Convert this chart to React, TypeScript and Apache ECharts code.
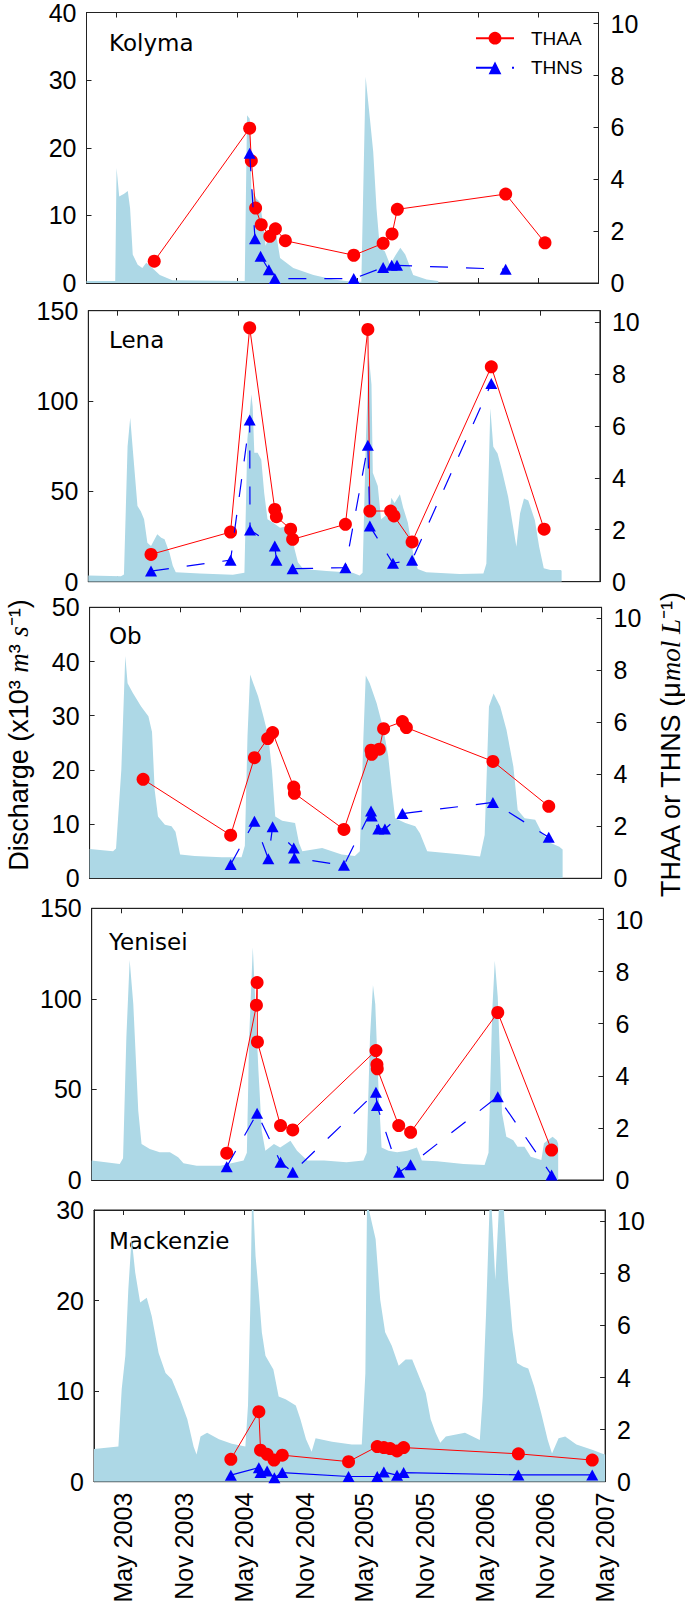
import React, { useEffect, useRef } from "react";
import * as echarts from "echarts";

type Pt = [string, number];

// ---------- categories / ticks ----------
const rivers = ["Kolyma", "Lena", "Ob", "Yenisei", "Mackenzie"];
const dischargeMax = [40, 150, 50, 150, 30];
const dischargeStep = [10, 50, 10, 50, 10];
const concMax = 10.43;
const concTicks = [0, 2, 4, 6, 8, 10];
const xStart = "2003-02-01";
const xEnd = "2007-05-01";
const xTickDates = [
  "2003-05-01", "2003-11-01", "2004-05-01", "2004-11-01", "2005-05-01",
  "2005-11-01", "2006-05-01", "2006-11-01", "2007-05-01",
];
const seriesNames = ["THAA", "THNS"];

// ---------- discharge (x10^3 m3 s-1) ----------
const kolymaQ: Pt[] = [
  ["2003-02-01", 0.3], ["2003-04-29", 0.3], ["2003-05-03", 17.0], ["2003-05-11", 12.8], ["2003-05-26", 13.2],
  ["2003-06-06", 13.6], ["2003-06-13", 11.0], ["2003-06-21", 4.2], ["2003-07-06", 2.7], ["2003-07-20", 2.2],
  ["2003-08-01", 3.0], ["2003-08-11", 2.6], ["2003-09-11", 1.2], ["2003-10-19", 0.4], ["2004-05-25", 0.3],
  ["2004-06-01", 24.8], ["2004-06-09", 24.3], ["2004-06-14", 14.0], ["2004-06-29", 12.5], ["2004-07-09", 12.0],
  ["2004-07-19", 9.1], ["2004-07-27", 5.5], ["2004-08-09", 7.1], ["2004-08-29", 7.0], ["2004-09-09", 3.7],
  ["2004-10-19", 2.2], ["2004-12-19", 1.2], ["2005-02-17", 0.5], ["2005-04-16", 0.2], ["2005-05-13", 0.2],
  ["2005-05-26", 30.5], ["2005-06-08", 24.3], ["2005-06-18", 19.4], ["2005-06-28", 11.0], ["2005-07-08", 5.2],
  ["2005-07-23", 4.7], ["2005-08-08", 2.7], ["2005-08-23", 4.0], ["2005-09-08", 5.2], ["2005-09-23", 4.2],
  ["2005-10-17", 1.2], ["2005-11-27", 0.5], ["2006-01-01", 0.3],
];
const lenaQ: Pt[] = [
  ["2003-02-01", 3.5], ["2003-05-11", 3.0], ["2003-05-20", 4.0], ["2003-05-31", 75], ["2003-06-08", 90.8],
  ["2003-06-15", 75], ["2003-06-30", 41.9], ["2003-07-10", 39], ["2003-07-20", 34.5], ["2003-07-30", 21.6],
  ["2003-08-10", 19.8], ["2003-08-29", 26.2], ["2003-09-10", 24.3], ["2003-09-20", 23.5], ["2003-10-05", 16],
  ["2003-10-15", 8.8], ["2003-10-24", 5.2], ["2004-01-05", 4.5], ["2004-04-14", 3.8], ["2004-05-19", 5],
  ["2004-05-28", 78.8], ["2004-06-09", 103.7], ["2004-06-13", 97], ["2004-06-18", 71.4], ["2004-06-28", 71.4],
  ["2004-07-09", 67.7], ["2004-07-18", 49], ["2004-07-28", 34.5], ["2004-08-13", 32.7], ["2004-09-04", 29.9],
  ["2004-10-04", 30.9], ["2004-10-18", 17.9], ["2004-10-28", 10.7], ["2004-11-13", 7], ["2005-01-23", 5.9],
  ["2005-04-12", 5], ["2005-05-03", 3.4], ["2005-05-12", 5], ["2005-05-22", 78.8], ["2005-05-31", 124.9],
  ["2005-06-08", 109], ["2005-06-12", 60.3], ["2005-06-27", 53], ["2005-07-07", 34.5], ["2005-08-02", 38.4],
  ["2005-08-07", 46.5], ["2005-08-17", 43.6], ["2005-09-02", 48.4], ["2005-09-12", 41], ["2005-09-26", 32.7],
  ["2005-10-12", 16], ["2005-10-26", 7], ["2005-11-21", 5.2], ["2006-03-02", 4.3], ["2006-05-13", 4.6],
  ["2006-05-22", 10], ["2006-06-03", 96], ["2006-06-12", 74.7], ["2006-06-25", 71], ["2006-07-08", 61.8],
  ["2006-07-27", 47], ["2006-08-11", 30.4], ["2006-08-21", 19.4], ["2006-09-01", 37.8], ["2006-09-13", 46.1],
  ["2006-09-26", 45], ["2006-10-16", 34], ["2006-10-29", 19.4], ["2006-11-12", 7.4], ["2006-12-02", 6.5],
  ["2007-01-02", 6.5], ["2007-01-05", 6.0],
];
const obQ: Pt[] = [
  ["2003-02-01", 5.4], ["2003-04-13", 5.0], ["2003-04-22", 5.5], ["2003-05-08", 20], ["2003-05-20", 41],
  ["2003-05-27", 36], ["2003-06-12", 34.2], ["2003-07-07", 31.7], ["2003-07-29", 29.9], ["2003-08-09", 27],
  ["2003-08-17", 16.3], ["2003-08-27", 11.4], ["2003-09-17", 9.9], ["2003-10-07", 9.6], ["2003-10-19", 8.6],
  ["2003-11-02", 4.4], ["2003-12-16", 4.1], ["2004-03-07", 3.9], ["2004-05-06", 3.9], ["2004-05-16", 6],
  ["2004-05-24", 26.2], ["2004-06-01", 37.6], ["2004-06-11", 35.9], ["2004-06-25", 33.6], ["2004-07-11", 29.9],
  ["2004-07-26", 26.2], ["2004-08-06", 20], ["2004-08-16", 11.4], ["2004-09-06", 10.6], ["2004-10-15", 10.2],
  ["2004-10-27", 6.5], ["2004-11-06", 5], ["2005-01-05", 5.6], ["2005-03-05", 4.4], ["2005-04-14", 4.1],
  ["2005-04-29", 5], ["2005-05-10", 26.2], ["2005-05-17", 37.4], ["2005-05-29", 36], ["2005-06-19", 32.3],
  ["2005-07-10", 27.4], ["2005-07-24", 22.5], ["2005-08-04", 16.3], ["2005-08-14", 11.1], ["2005-09-14", 10.2],
  ["2005-10-14", 9.6], ["2005-10-28", 8.3], ["2005-11-19", 5], ["2006-03-04", 4.4], ["2006-04-28", 4],
  ["2006-05-12", 8], ["2006-05-25", 31.7], ["2006-06-08", 34.1], ["2006-06-28", 31.7], ["2006-07-17", 27.4],
  ["2006-08-07", 20.6], ["2006-08-20", 12.6], ["2006-09-10", 11.1], ["2006-10-12", 10.8], ["2006-11-02", 8.3],
  ["2006-11-28", 6.5], ["2006-12-24", 5.8], ["2007-01-03", 5.3],
];
const yeniseiQ: Pt[] = [
  ["2003-02-01", 10.7], ["2003-04-27", 8.8], ["2003-05-07", 12], ["2003-05-17", 78.8], ["2003-05-27", 121.5],
  ["2003-06-07", 97.2], ["2003-06-22", 38.3], ["2003-07-02", 19.9], ["2003-07-27", 17.1], ["2003-08-26", 15.3],
  ["2003-09-26", 15.3], ["2003-10-21", 12.5], ["2003-11-06", 9.2], ["2003-12-16", 7.9], ["2004-02-26", 7.9],
  ["2004-05-06", 10.7], ["2004-05-16", 15], ["2004-05-23", 78.8], ["2004-06-03", 128.5], ["2004-06-11", 97.2],
  ["2004-06-20", 60.4], ["2004-06-30", 27.2], ["2004-07-11", 16.2], ["2004-08-06", 19.9], ["2004-08-25", 18],
  ["2004-09-25", 21.7], ["2004-10-15", 16.2], ["2004-11-15", 10.7], ["2005-01-05", 10.7], ["2005-03-14", 9.8],
  ["2005-05-04", 10.7], ["2005-05-14", 15], ["2005-05-24", 78.8], ["2005-06-02", 107.7], ["2005-06-09", 97],
  ["2005-06-19", 49.3], ["2005-06-28", 18], ["2005-07-19", 16.2], ["2005-08-14", 15.3], ["2005-09-14", 16.2],
  ["2005-10-13", 18], ["2005-10-28", 10.7], ["2005-12-13", 10.3], ["2006-03-03", 8.8], ["2006-05-06", 8.3],
  ["2006-05-18", 15], ["2006-05-29", 92], ["2006-06-06", 121], ["2006-06-15", 101], ["2006-06-28", 36.8],
  ["2006-07-11", 23.9], ["2006-08-01", 22], ["2006-08-14", 18.4], ["2006-09-04", 18.4], ["2006-09-23", 12.9],
  ["2006-10-25", 11], ["2006-11-02", 20.3], ["2006-11-28", 23.9], ["2006-12-11", 22], ["2006-12-15", 20],
];
const mackenzieQ: Pt[] = [
  ["2003-02-01", 3.6], ["2003-04-16", 3.9], ["2003-04-26", 10.2], ["2003-05-07", 13.9], ["2003-05-16", 21.2],
  ["2003-05-26", 26.9], ["2003-06-06", 23.1], ["2003-06-21", 19.8], ["2003-07-11", 20.3], ["2003-07-26", 18.3],
  ["2003-08-16", 14.2], ["2003-09-06", 12], ["2003-09-25", 11.3], ["2003-10-20", 9.1], ["2003-11-11", 6.9],
  ["2003-11-30", 3.9], ["2003-12-09", 3.0], ["2003-12-21", 5.0], ["2004-01-10", 5.4], ["2004-02-15", 4.7],
  ["2004-03-25", 4.2], ["2004-05-05", 3.9], ["2004-05-13", 8.4], ["2004-05-20", 19.4], ["2004-05-26", 33],
  ["2004-06-05", 24.9], ["2004-06-14", 21.2], ["2004-06-24", 16.5], ["2004-07-05", 13.9], ["2004-07-29", 12.4],
  ["2004-08-14", 9.4], ["2004-09-04", 9.1], ["2004-10-05", 8.4], ["2004-10-19", 6.9], ["2004-11-05", 4.7],
  ["2004-11-22", 3.3], ["2004-12-04", 4.8], ["2005-01-23", 4.4], ["2005-03-24", 4.1], ["2005-04-23", 4.1],
  ["2005-05-04", 12], ["2005-05-09", 31], ["2005-05-18", 29.5], ["2005-06-04", 26.8], ["2005-06-18", 20.1],
  ["2005-07-03", 16.5], ["2005-07-23", 15], ["2005-08-13", 12.8], ["2005-09-03", 13.5], ["2005-09-23", 13.5],
  ["2005-10-13", 11.7], ["2005-11-03", 9.8], ["2005-11-18", 6.9], ["2005-12-03", 5.4], ["2005-12-17", 4.3],
  ["2006-01-03", 5], ["2006-03-02", 5.4], ["2006-03-13", 5.2], ["2006-04-16", 4.6], ["2006-04-25", 9.4],
  ["2006-05-05", 18.6], ["2006-05-18", 33], ["2006-06-02", 22.3], ["2006-06-14", 31], ["2006-06-27", 30.5],
  ["2006-07-11", 22.3], ["2006-07-24", 16.7], ["2006-08-07", 13.1], ["2006-08-26", 12.7], ["2006-09-10", 12.5],
  ["2006-09-28", 10.5], ["2006-10-19", 7.6], ["2006-11-08", 4.6], ["2006-11-21", 3.1], ["2006-12-11", 4.8],
  ["2006-12-31", 5], ["2007-02-03", 4.1], ["2007-03-25", 3.5], ["2007-04-21", 3.1], ["2007-05-01", 3.0],
];

// ---------- THAA (umol L-1) ----------
const kolymaTHAA: Pt[] = [
  ["2003-08-25", 0.84], ["2004-06-09", 5.97], ["2004-06-14", 4.71], ["2004-06-27", 2.89], ["2004-07-14", 2.25],
  ["2004-08-09", 1.80], ["2004-08-26", 2.09], ["2004-09-25", 1.63], ["2005-04-20", 1.07], ["2005-07-18", 1.53],
  ["2005-08-14", 1.89], ["2005-08-30", 2.84], ["2006-07-24", 3.43], ["2006-11-20", 1.55],
];
const lenaTHAA: Pt[] = [
  ["2003-08-10", 1.05], ["2004-04-07", 1.91], ["2004-06-04", 9.77], ["2004-08-19", 2.78], ["2004-08-24", 2.5],
  ["2004-10-06", 2.02], ["2004-10-12", 1.63], ["2005-03-21", 2.21], ["2005-05-28", 9.71], ["2005-06-03", 2.72],
  ["2005-08-05", 2.72], ["2005-08-15", 2.53], ["2005-10-09", 1.53], ["2006-06-06", 8.27], ["2006-11-13", 2.02],
];
const obTHAA: Pt[] = [
  ["2003-07-13", 3.81], ["2004-04-03", 1.66], ["2004-06-14", 4.64], ["2004-07-24", 5.38], ["2004-08-08", 5.61],
  ["2004-10-11", 3.51], ["2004-10-13", 3.27], ["2005-03-12", 1.88], ["2005-06-02", 4.93], ["2005-06-04", 4.77],
  ["2005-06-27", 4.97], ["2005-07-10", 5.76], ["2005-09-05", 6.03], ["2005-09-17", 5.8], ["2006-06-06", 4.5],
  ["2006-11-22", 2.77],
];
const yeniseiTHAA: Pt[] = [
  ["2004-03-16", 1.03], ["2004-06-14", 6.71], ["2004-06-16", 7.58], ["2004-06-17", 5.3], ["2004-08-26", 2.09],
  ["2004-10-02", 1.92], ["2005-06-11", 4.97], ["2005-06-14", 4.43], ["2005-06-15", 4.27], ["2005-08-19", 2.09],
  ["2005-09-24", 1.83], ["2006-06-15", 6.43], ["2006-11-25", 1.15],
];
const mackenzieTHAA: Pt[] = [
  ["2004-03-22", 0.86], ["2004-06-15", 2.69], ["2004-06-20", 1.21], ["2004-07-10", 1.05], ["2004-07-31", 0.83],
  ["2004-08-25", 1.02], ["2005-03-14", 0.77], ["2005-06-09", 1.35], ["2005-06-29", 1.31], ["2005-07-18", 1.27],
  ["2005-08-08", 1.18], ["2005-08-28", 1.31], ["2006-08-11", 1.07], ["2007-03-23", 0.83],
];

// ---------- THNS (umol L-1) ----------
const kolymaTHNS: Pt[] = [
  ["2004-06-09", 5.0], ["2004-06-25", 1.71], ["2004-07-12", 1.03], ["2004-08-06", 0.51], ["2004-08-24", 0.17],
  ["2005-04-20", 0.17], ["2005-07-18", 0.6], ["2005-08-13", 0.68], ["2005-08-29", 0.68], ["2006-07-24", 0.53],
];
const lenaTHNS: Pt[] = [
  ["2003-08-10", 0.41], ["2004-04-07", 0.83], ["2004-06-04", 6.22], ["2004-06-05", 1.99], ["2004-08-19", 1.37],
  ["2004-08-24", 0.83], ["2004-10-12", 0.5], ["2005-03-21", 0.54], ["2005-05-28", 5.25], ["2005-06-03", 2.14],
  ["2005-08-12", 0.71], ["2005-10-09", 0.83], ["2006-06-06", 7.63],
];
const obTHNS: Pt[] = [
  ["2004-04-03", 0.53], ["2004-06-14", 2.2], ["2004-07-26", 0.75], ["2004-08-08", 1.98], ["2004-10-11", 1.17],
  ["2004-10-13", 0.78], ["2005-03-12", 0.5], ["2005-06-02", 2.59], ["2005-06-04", 2.4], ["2005-06-24", 1.9],
  ["2005-07-14", 1.9], ["2005-09-05", 2.49], ["2006-06-06", 2.92], ["2006-11-22", 1.58],
];
const yeniseiTHNS: Pt[] = [
  ["2004-03-16", 0.51], ["2004-06-16", 2.56], ["2004-08-26", 0.68], ["2004-10-02", 0.3], ["2005-06-11", 3.37],
  ["2005-06-14", 2.86], ["2005-08-20", 0.3], ["2005-09-24", 0.59], ["2006-06-15", 3.2], ["2006-11-25", 0.19],
];
const mackenzieTHNS: Pt[] = [
  ["2004-03-22", 0.25], ["2004-06-15", 0.54], ["2004-06-20", 0.35], ["2004-07-10", 0.41], ["2004-08-01", 0.15],
  ["2004-08-25", 0.35], ["2005-03-14", 0.2], ["2005-06-09", 0.2], ["2005-06-29", 0.37], ["2005-08-08", 0.25],
  ["2005-08-28", 0.35], ["2006-08-11", 0.26], ["2007-03-23", 0.26],
];

const dischargeData = [kolymaQ, lenaQ, obQ, yeniseiQ, mackenzieQ];
const thaaData = [kolymaTHAA, lenaTHAA, obTHAA, yeniseiTHAA, mackenzieTHAA];
const thnsData = [kolymaTHNS, lenaTHNS, obTHNS, yeniseiTHNS, mackenzieTHNS];
const thnsDashed = [true, true, true, true, false];

// ---------- layout (pixels) ----------
const layout = [
  { left: 86.5, right: 598.5, top: 11.7, bottom: 283, titleTop: 31 },
  { left: 88.3, right: 599.9, top: 310.7, bottom: 581.7, titleTop: 328 },
  { left: 89.6, right: 601.6, top: 607.3, bottom: 878.3, titleTop: 624 },
  { left: 91.7, right: 603.4, top: 908.3, bottom: 1180, titleTop: 930 },
  { left: 94, right: 605.1, top: 1210, bottom: 1481.7, titleTop: 1229 },
];

const ts = (s: string) => Date.parse(s + "T00:00:00Z");
const conv = (a: Pt[]) => a.map(([d, v]) => [ts(d), v]);
const MONTHS = ["Jan", "Feb", "Mar", "Apr", "May", "Jun", "Jul", "Aug", "Sep", "Oct", "Nov", "Dec"];
const fmtDate = (v: number) => {
  const d = new Date(v);
  return MONTHS[d.getUTCMonth()] + " " + d.getUTCFullYear();
};

const SANS = "Liberation Sans";
const INK = "#222";

function buildOption() {
  const tickVals = xTickDates.map(ts);
  const grid: any[] = [];
  const xAxis: any[] = [];
  const yAxis: any[] = [];
  const series: any[] = [];
  const title: any[] = [];

  layout.forEach((g, i) => {
    grid.push({
      left: g.left, top: g.top, width: g.right - g.left, height: g.bottom - g.top,
      show: true, borderColor: INK, borderWidth: 1, backgroundColor: "transparent",
    });
    const baseX = {
      type: "value", gridIndex: i, min: ts(xStart), max: ts(xEnd),
      axisLine: { show: true, onZero: false, lineStyle: { color: INK, width: 1 } },
      axisTick: { show: true, inside: true, length: 5, customValues: tickVals, lineStyle: { color: INK } },
      splitLine: { show: false },
    };
    xAxis.push({
      ...baseX, position: "bottom",
      axisLabel: {
        show: i === layout.length - 1, customValues: tickVals, rotate: 90, margin: 11,
        fontSize: 25, fontFamily: SANS, color: "#000", formatter: (v: number) => fmtDate(v),
      },
    });
    xAxis.push({ ...baseX, position: "top", axisLabel: { show: false } });
    yAxis.push({
      type: "value", gridIndex: i, position: "left", min: 0, max: dischargeMax[i], interval: dischargeStep[i],
      axisLine: { show: true, onZero: false, lineStyle: { color: INK, width: 1 } },
      axisTick: { show: true, inside: true, length: 5, lineStyle: { color: INK } },
      axisLabel: { fontSize: 25, fontFamily: SANS, color: "#000", margin: 10 },
      splitLine: { show: false },
    });
    yAxis.push({
      type: "value", gridIndex: i, position: "right", min: 0, max: concMax,
      axisLine: { show: true, onZero: false, lineStyle: { color: INK, width: 1 } },
      axisTick: { show: true, inside: true, length: 5, customValues: concTicks, lineStyle: { color: INK } },
      axisLabel: { customValues: concTicks, fontSize: 25, fontFamily: SANS, color: "#000", margin: 12 },
      splitLine: { show: false },
    });

    series.push({
      name: "Discharge " + rivers[i], type: "line", xAxisIndex: 2 * i, yAxisIndex: 2 * i,
      data: conv(dischargeData[i]), showSymbol: false, symbol: "none",
      lineStyle: { width: 0 }, areaStyle: { color: "#add8e6", opacity: 1 }, z: 2, clip: true,
    });
    series.push({
      name: seriesNames[0], type: "line", xAxisIndex: 2 * i, yAxisIndex: 2 * i + 1,
      data: conv(thaaData[i]), symbol: "circle", symbolSize: 13, color: "#ff0000",
      itemStyle: { color: "#ff0000" }, lineStyle: { color: "#ff0000", width: 1 }, z: 3,
    });
    series.push({
      name: seriesNames[1], type: "line", xAxisIndex: 2 * i, yAxisIndex: 2 * i + 1,
      data: conv(thnsData[i]), symbol: "triangle", symbolSize: [12, 11], color: "#0000ff",
      itemStyle: { color: "#0000ff" },
      lineStyle: { color: "#0000ff", width: 1.2, type: thnsDashed[i] ? [18, 18] : "solid" }, z: 4,
    });

    title.push({
      text: rivers[i], left: 109, top: g.titleTop, padding: 0, z: 1,
      textStyle: { fontFamily: "DejaVu Sans", fontSize: 23, fontWeight: "normal", color: "#000" },
    });
  });

  const n = { fontSize: 27, fontFamily: SANS, color: "#000" };
  const it = { fontSize: 27, fontFamily: "Liberation Serif", fontStyle: "italic", color: "#000" };

  return {
    animation: false,
    backgroundColor: "#fff",
    title,
    legend: {
      data: seriesNames, orient: "vertical", left: 475, top: 28.7, padding: 0,
      itemWidth: 38, itemHeight: 16, itemGap: 10.6,
      formatter: (name: string) => "{t|" + name + "}",
      textStyle: {
        fontFamily: SANS, fontSize: 19, color: "#000",
        rich: { t: { fontFamily: SANS, fontSize: 19, color: "#000", padding: [0, 0, 0, 12] } },
      },
    },
    grid, xAxis, yAxis, series,
    graphic: [
      {
        type: "text", x: 19, y: 735, rotation: Math.PI / 2, z: 10,
        style: {
          text: "{n|Discharge (x10³ }{i|m}{n|³ }{i|s}{n|⁻¹)}",
          rich: { n, i: it },
          align: "center", verticalAlign: "middle",
        },
      },
      {
        type: "text", x: 671, y: 745, rotation: Math.PI / 2, z: 10,
        style: {
          text: "{n|THAA or THNS (μ}{i|mol L}{n|⁻¹)}",
          rich: { n, i: it },
          align: "center", verticalAlign: "middle",
        },
      },
    ],
  };
}

export default function App() {
  const ref = useRef<HTMLDivElement>(null);
  useEffect(() => {
    if (!ref.current) return;
    const chart = echarts.init(ref.current, undefined, { renderer: "svg" });
    chart.setOption(buildOption() as any);
    return () => chart.dispose();
  }, []);
  return (
    <div
      ref={ref}
      style={{ position: "absolute", left: 0, top: 0, width: "685px", height: "1606px", background: "#fff" }}
    />
  );
}
